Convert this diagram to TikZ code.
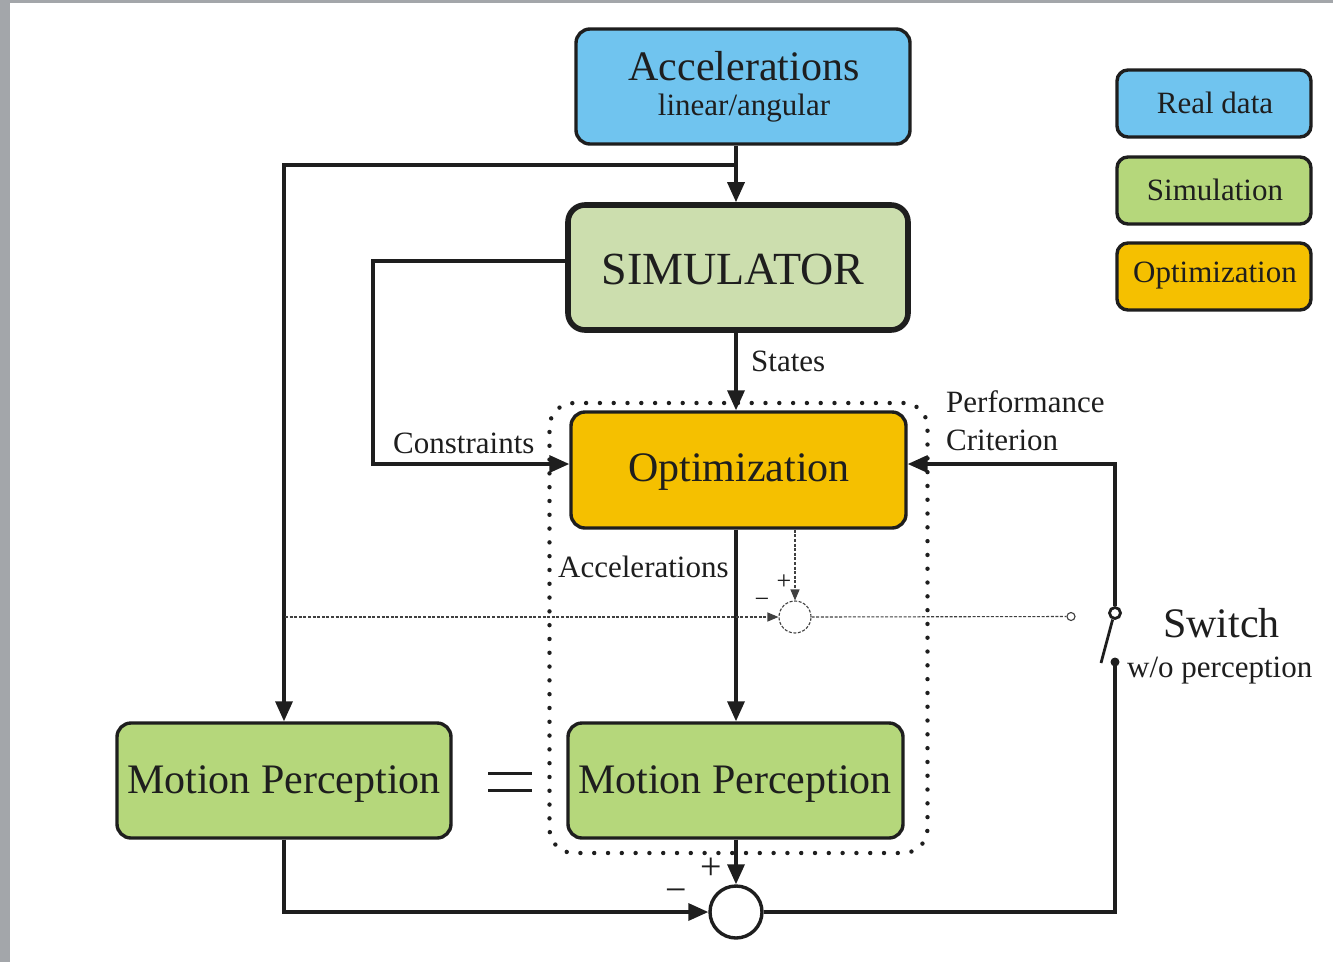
\documentclass[tikz,border=0pt]{standalone}
\usepackage{fontspec}
\setmainfont{Liberation Serif}
\usetikzlibrary{arrows.meta,calc}
\definecolor{realblue}{HTML}{70C4EF}
\definecolor{simgreen}{HTML}{B5D77B}
\definecolor{simpale}{HTML}{CCDEAE}
\definecolor{optyellow}{HTML}{F5C000}
\definecolor{framegray}{HTML}{A3A6AA}
\definecolor{ink}{HTML}{1E1E1E}
\begin{document}
\begin{tikzpicture}[x=1pt,y=-1pt,
  box/.style={draw=ink,line width=3.4pt,rounded corners=14pt,inner sep=0pt},
  big/.style={font=\fontsize{42}{46}\selectfont,text=ink,inner sep=0pt},
  small/.style={font=\fontsize{31}{34}\selectfont,text=ink,inner sep=0pt},
  conn/.style={draw=ink,line width=3.4pt},
  tip/.style={-{Triangle[length=20pt,width=17pt]}},
  thinline/.style={draw=ink!85,line width=1.1pt,dash pattern=on 3pt off 1.6pt},
  smalltip/.style={-{Triangle[length=11pt,width=9pt]}},
  sign/.style={font=\fontsize{38}{40}\selectfont,text=ink,inner sep=0pt},
  smallsign/.style={font=\fontsize{26}{28}\selectfont,text=ink,inner sep=0pt},
]
\fill[framegray] (0,0) rectangle (1333,962);
\fill[white] (10,3) rectangle (1333,962);
\useasboundingbox (0,0) rectangle (1333,962);

% dotted frame
\node[draw=ink,line width=4.4pt,line cap=round,dash pattern=on 0pt off 13.8pt,
      rounded corners=24pt,minimum width=378pt,minimum height=450pt,inner sep=0pt]
      (frame) at (738.5,628) {};

% boxes
\node[box,fill=realblue,minimum width=334pt,minimum height=115pt] (acc) at (743,86.5) {};
\node[box,fill=simpale,line width=5.6pt,rounded corners=17pt,minimum width=340pt,minimum height=125pt] (sim) at (738,267.5) {};
\node[box,fill=optyellow,minimum width=335pt,minimum height=116pt] (opt) at (738.5,470) {};
\node[box,fill=simgreen,minimum width=335pt,minimum height=115pt] (mpr) at (735.5,780.5) {};
\node[box,fill=simgreen,minimum width=334pt,minimum height=115pt] (mpl) at (284,780.5) {};

% legend
\node[box,fill=realblue,rounded corners=11pt,minimum width=194pt,minimum height=67pt] (lg1) at (1214,103.5) {};
\node[box,fill=simgreen,rounded corners=11pt,minimum width=194pt,minimum height=67pt] (lg2) at (1214,190.5) {};
\node[box,fill=optyellow,rounded corners=11pt,minimum width=194pt,minimum height=67pt] (lg3) at (1214,276.5) {};
\node[small,anchor=base] (lg1t) at (1215,113) {Real data};
\node[small,anchor=base] (lg2t) at (1215,200) {Simulation};
\node[small,anchor=base] (lg3t) at (1215,282) {Optimization};

% box texts
\node[big,anchor=base] (accT) at (744,80) {Accelerations};
\node[small,anchor=base] (accS) at (744,115) {linear/angular};
\node[font=\fontsize{46}{50}\selectfont,text=ink,inner sep=0pt,anchor=base] (simT) at (733,284) {SIMULATOR};
\node[big,anchor=base] (optT) at (739,481) {Optimization};
\node[big,anchor=base] (mprT) at (735,793) {Motion Perception};
\node[big,anchor=base] (mplT) at (284,793) {Motion Perception};

% labels
\node[small,anchor=base west] (lStates) at (751,371) {States};
\node[small,anchor=base west] (lCons) at (393,453) {Constraints};
\node[small,anchor=base west] (lPerf) at (946,412) {Performance};
\node[small,anchor=base west] (lCrit) at (946,450) {Criterion};
\node[small,anchor=base west] (lAcc) at (558,577) {Accelerations};
\node[big,anchor=base west] (lSw) at (1163,637) {Switch};
\node[small,anchor=base west] (lWo) at (1127,677) {w/o perception};

% connectors
\coordinate (j1) at (736,165);
\draw[conn,tip] (acc.south -| j1) -- (sim.north -| j1);
\draw[conn,tip] (j1) -| (mpl.north);
\coordinate (c1) at (373,261);
\coordinate (c2) at (373,464);
\draw[conn,tip] (sim.west |- c1) -- (c1) -- (c2) -- (opt.west |- c2);
\draw[conn,tip] (sim.south -| j1) -- (opt.north -| j1);
\draw[conn,tip] (opt.south -| j1) -- (mpr.north -| j1);

\node[draw=ink,line width=3.4pt,circle,minimum size=52pt,inner sep=0pt,fill=white] (sum) at (736,912) {};
\draw[conn,tip] (mpr.south -| sum) -- (sum.north);
\draw[conn,tip] (mpl.south) -- (mpl.south |- sum) -- (sum.west);
\node[sign] (plus1) at (711,869) {+};
\node[sign] (minus1) at (676,896) {−};

% switch
\node[draw=ink,line width=2.8pt,circle,minimum size=11pt,inner sep=0pt,fill=white] (swa) at (1115,613) {};
\node[fill=ink,circle,minimum size=9pt,inner sep=0pt] (swb) at (1115,662) {};
\coordinate (blade) at (1101,663);
\coordinate (c4) at (1115,912);
\coordinate (c5) at (1115,464);
\draw[conn] (sum.east) -- (c4) -- (swb.center);
\draw[conn,tip] (swa.north) -- (c5) -- (opt.east |- c5);
\draw[conn,line width=2.8pt] (swa.250) -- (blade);

% dashed comparison
\node[draw=ink!85,line width=1.1pt,dash pattern=on 3pt off 1.6pt,circle,minimum size=32pt,inner sep=0pt] (dsum) at (795,617) {};
\draw[thinline,smalltip] (opt.south -| dsum) -- (dsum.north);
\coordinate (d1) at (285,617);
\draw[thinline,smalltip] (d1) -- (dsum.west);
\node[draw=ink!85,line width=1.1pt,circle,minimum size=8pt,inner sep=0pt] (dend) at (1071,616.5) {};
\draw[thinline] (dsum.east) -- (dend.west);
\node[smallsign] (plus2) at (784,582) {+};
\node[smallsign] (minus2) at (762,603) {−};

% equals sign
\coordinate (e1) at (488,773);
\coordinate (e2) at (532,773);
\coordinate (e3) at (488,790);
\coordinate (e4) at (532,790);
\draw[draw=ink,line width=3pt] (e1) -- (e2) (e3) -- (e4);
\end{tikzpicture}
\end{document}
